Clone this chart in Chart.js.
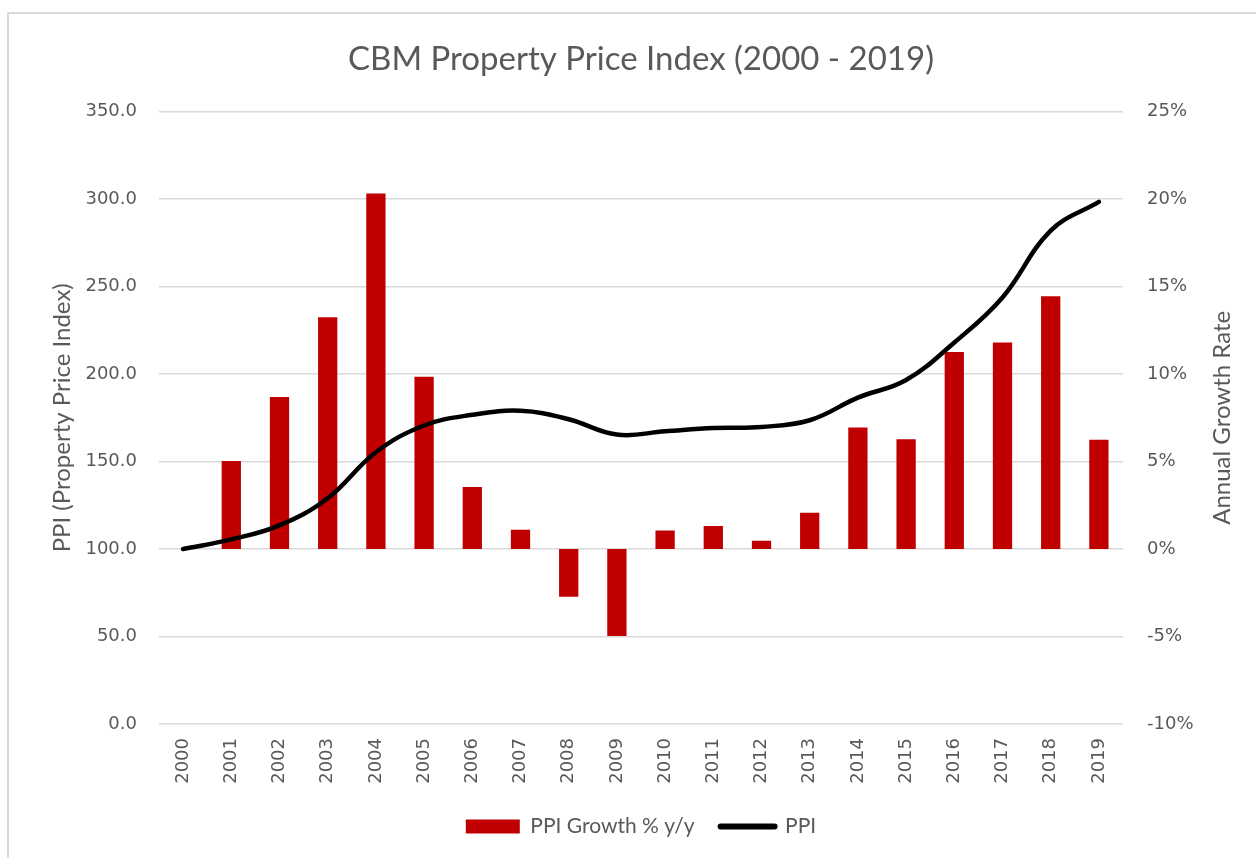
<!DOCTYPE html>
<html>
<head>
<meta charset="utf-8">
<title>CBM Property Price Index</title>
<script src="https://cdn.jsdelivr.net/npm/chart.js@4.4.0/dist/chart.umd.min.js"></script>
<style>
  html, body { margin: 0; padding: 0; background: #fff; }
  body { width: 1256px; height: 858px; position: relative; overflow: hidden; }
  #frame { position: absolute; left: 7px; top: 12px; width: 1300px; height: 900px;
           border-top: 2px solid #d9d9d9; border-left: 2px solid #d9d9d9; }
  #wrap { position: absolute; left: 0; top: 0; width: 1256px; height: 858px; }
</style>
</head>
<body>
<div id="frame"></div>
<div id="wrap"><canvas id="ppiChart"></canvas></div>
<script>
// data
var years = ["2000", "2001", "2002", "2003", "2004", "2005", "2006", "2007", "2008", "2009",
             "2010", "2011", "2012", "2013", "2014", "2015", "2016", "2017", "2018", "2019"];
var ppiIndex = [100.0, 105.5, 113.5, 129.0, 155.3, 170.6, 176.7, 179.0, 174.2, 165.4,
                167.3, 169.2, 169.8, 173.6, 186.5, 196.6, 218.0, 243.8, 282.0, 298.4];
var ppiGrowth = [null, 0.0503, 0.0869, 0.1324, 0.2032, 0.0985, 0.0354, 0.0110, -0.0273, -0.0497,
                 0.0106, 0.0131, 0.0047, 0.0207, 0.0695, 0.0627, 0.1126, 0.1180, 0.1445, 0.0625];

var leftTicks = [0, 350, 50];        // min, max, step
var rightTicks = [-0.10, 0.25, 0.05];

var chartTitle = "CBM Property Price Index (2000 - 2019)";
var leftAxisTitle = "PPI (Property Price Index)";
var rightAxisTitle = "Annual Growth Rate";
var seriesNames = ["PPI", "PPI Growth % y/y"];

var textColor = "#595959";
var gridColor = "#d9d9d9";

// chart.js puts a right axis title top-to-bottom, excel reads it bottom-to-top
var rightTitlePlugin = {
    id: "rightTitle",
    afterDraw: function(chart) {
        var ctx = chart.ctx;
        var area = chart.chartArea;
        ctx.save();
        ctx.translate(chart.width - 34, (area.top + area.bottom) / 2);
        ctx.rotate(-Math.PI / 2);
        ctx.font = "24px Lato";
        ctx.fillStyle = textColor;
        ctx.textAlign = "center";
        ctx.textBaseline = "middle";
        ctx.fillText(rightAxisTitle, 0, 0);
        ctx.restore();
    }
};

var ctx = document.getElementById("ppiChart");
var ppiChart = new Chart(ctx, {
    type: "bar",
    data: {
        labels: years,
        datasets: [
            {
                type: "line",
                label: seriesNames[0],
                data: ppiIndex,
                yAxisID: "y",
                borderColor: "#000000",
                backgroundColor: "#000000",
                borderWidth: 4.5,
                borderCapStyle: "round",
                tension: 0.4,
                pointRadius: 0,
                pointHoverRadius: 0
            },
            {
                type: "bar",
                label: seriesNames[1],
                data: ppiGrowth,
                yAxisID: "y1",
                backgroundColor: "#C00000",
                borderWidth: 0,
                categoryPercentage: 1.0,
                barPercentage: 0.4
            }
        ]
    },
    options: {
        responsive: true,
        maintainAspectRatio: false,
        animation: false,
        layout: { padding: { left: 26, right: 0, top: 0, bottom: 11 } },
        plugins: {
            title: {
                display: true,
                text: chartTitle,
                color: textColor,
                font: { family: "Lato", size: 33, weight: "normal" },
                padding: { top: 40, bottom: 32 }
            },
            legend: {
                position: "bottom",
                labels: {
                    color: textColor,
                    font: { family: "Lato", size: 21 },
                    usePointStyle: true,
                    pointStyleWidth: 54,
                    boxHeight: 14,
                    padding: 26,
                    sort: function(a, b) { return b.datasetIndex - a.datasetIndex; },
                    generateLabels: function(chart) {
                        var items = Chart.defaults.plugins.legend.labels.generateLabels(chart);
                        items.forEach(function(item) {
                            if (item.datasetIndex === 0) {
                                item.pointStyle = "line";
                                item.strokeStyle = "#000000";
                                item.lineWidth = 6;
                                item.lineCap = "round";
                            } else {
                                item.pointStyle = "rect";
                                item.fillStyle = "#C00000";
                                item.lineWidth = 0;
                            }
                        });
                        return items;
                    }
                }
            },
            tooltip: { enabled: false }
        },
        scales: {
            x: {
                grid: { display: false, drawTicks: false },
                border: { display: false },
                ticks: {
                    color: textColor,
                    font: { family: "DejaVu Sans", size: 18 },
                    minRotation: 90,
                    maxRotation: 90,
                    padding: 14,
                    autoSkip: false
                },
                afterFit: function(scale) { scale.height = 66; }
            },
            y: {
                position: "left",
                min: leftTicks[0],
                max: leftTicks[1],
                grid: { color: gridColor, lineWidth: 1.5, drawTicks: false },
                border: { display: false },
                ticks: {
                    stepSize: leftTicks[2],
                    color: textColor,
                    font: { family: "DejaVu Sans", size: 18 },
                    padding: 22,
                    callback: function(v) { return v.toFixed(1); }
                },
                title: {
                    display: true,
                    text: leftAxisTitle,
                    color: textColor,
                    font: { family: "Lato", size: 24 },
                    padding: { top: 22, bottom: 0 }
                },
                afterFit: function(scale) { scale.width = 133; }
            },
            y1: {
                position: "right",
                min: rightTicks[0],
                max: rightTicks[1],
                grid: { display: false, drawTicks: false },
                border: { display: false },
                ticks: {
                    stepSize: rightTicks[2],
                    color: textColor,
                    font: { family: "DejaVu Sans", size: 18 },
                    padding: 24,
                    callback: function(v) { return Math.round(v * 100) + "%"; }
                },
                afterFit: function(scale) { scale.width = 133; }
            }
        }
    },
    plugins: [rightTitlePlugin]
});
</script>
</body>
</html>
